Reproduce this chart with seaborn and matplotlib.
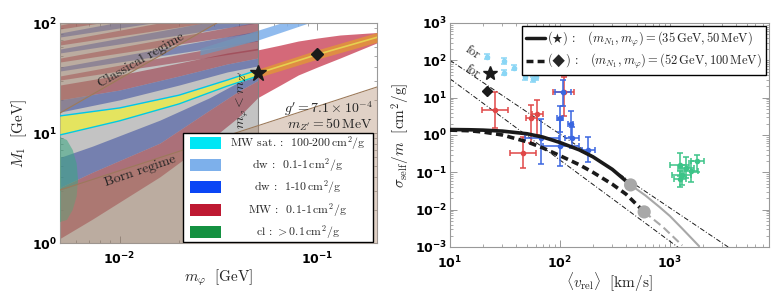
import numpy as np
import seaborn as sns
import matplotlib.pyplot as plt
from matplotlib.patches import Rectangle
from matplotlib.lines import Line2D

# ---------------- left panel: (m_phi [GeV], M_1 [GeV]) ----------------
m_zp = 0.05
born_x = [0.005, 0.2]
born_y = [3.03, 26.2]
class_x = [0.005, 0.031]
class_y = [15.2, 100]

# MW 0.1-1 (red) and dw 1-10 (blue), lower branch
low_x = [0.005, 0.0073, 0.016, 0.0286, 0.04, 0.05]
red_low_min = [1.1, 1.65, 4.0, 8.6, 14, 21]
red_low_max = [3.2, 4.4, 8.1, 16.2, 24, 30]
blue_low_max = [6.0, 7.6, 13.1, 21, 29, 34]

# upper branches (above the narrow band)
up_x = [0.005, 0.01, 0.02, 0.035, 0.05]
blue_up_min = [15.5, 20, 27.3, 35.9, 40.7]
blue_up_max = [20, 24.6, 33, 42.4, 48]
red_up_max = [27.3, 33.7, 43.3, 53.4, 59]

# red branch right of m_Z'
red_right_x = [0.05, 0.065, 0.08, 0.1, 0.13, 0.2]
red_right_min = [21, 27.3, 33.7, 39.8, 48, 66]
red_right_max = [57, 63, 68.6, 73, 77.8, 82]

# dw 0.1-1 (light blue) leaving through the top
lblue_x = [0.0255, 0.05, 0.09]
lblue_min = [51.2, 70, 100]
lblue_max = [59, 86, 120]

# narrow MW-satellite band (yellow with cyan edges) and its continuation
sat_x = [0.005, 0.01, 0.02, 0.035, 0.05]
sat_min = [9.6, 12.9, 18.4, 26.7, 33]
sat_max = [14.3, 16.9, 22.1, 30.3, 37.4]
orange_x = [0.05, 0.1, 0.2]
orange_min = [32, 47, 67]
orange_max = [38, 57, 82]

# resonance fan in the upper left corner
fan_x = [0.005, 0.05]
fan_min = [[88.2, 165], [74.6, 140], [63.1, 118], [53.4, 100], [44.2, 82.5], [36.6, 68.6], [30.3, 57]]
fan_max = [[95.9, 210], [81.1, 175], [68.6, 146], [58.0, 123], [48.0, 102], [39.8, 84.5], [33.0, 70]]
fan_kind = ['red', 'blue', 'red', 'blue', 'red', 'blue', 'red']

# clusters (green)
cl_x = [0.005, 0.00542, 0.0058, 0.00607, 0.00617, 0.00607, 0.0058, 0.00542, 0.005]
cl_y = [9.2, 8.64, 7.0, 5.28, 3.74, 2.65, 2.0, 1.62, 1.55]

star_pt = (0.05, 35)
diam_pt = (0.1, 52)

leg_labels = ['MW sat. :  100-200$\\,\\mathrm{cm}^2/\\mathrm{g}$',
              'dw :  0.1-1$\\,\\mathrm{cm}^2/\\mathrm{g}$',
              'dw :  1-10$\\,\\mathrm{cm}^2/\\mathrm{g}$',
              'MW :  0.1-1$\\,\\mathrm{cm}^2/\\mathrm{g}$',
              'cl : $>0.1\\,\\mathrm{cm}^2/\\mathrm{g}$']
leg_colors = ['#00e6f5', '#7db0eb', '#0a46f5', '#be1932', '#149141']

# ---------------- right panel: (<v_rel> [km/s], sigma/m [cm^2/g]) ----------------
v_star = [10, 15, 20, 30, 50, 70, 100, 150, 200, 300, 440]
s_star = [1.4, 1.38, 1.35, 1.27, 1.08, 0.88, 0.63, 0.40, 0.26, 0.12, 0.046]
v_star_ext = [440, 600, 800, 1000, 1300, 1600, 1850]
s_star_ext = [0.046, 0.024, 0.012, 0.0068, 0.0031, 0.00164, 0.00105]
v_diam = [10, 15, 20, 30, 50, 70, 100, 150, 200, 300, 400, 585]
s_diam = [1.35, 1.3, 1.2, 1.0, 0.66, 0.45, 0.28, 0.16, 0.1, 0.048, 0.026, 0.0087]
v_diam_ext = [585, 860, 1300]
s_diam_ext = [0.0087, 0.0035, 0.0011]
v_dot = [440, 585]
s_dot = [0.046, 0.0087]

v_for = [10, 3400]
s_for_star = [100, 0.001]
s_for_diam = [32, 0.00010]

sat_v = [21.5, 31, 31, 38, 48, 57, 57, 61]
sat_s = [125, 95, 47, 64, 35, 50, 31, 36]

mw_v = [25.5, 46, 55, 62, 108]
mw_vlo = [19.5, 35, 49, 56, 86]
mw_vhi = [33.5, 60, 62, 70, 135]
mw_s = [4.8, 0.33, 2.8, 3.6, 14]
mw_slo = [1.5, 0.13, 0.6, 1.0, 3.3]
mw_shi = [14, 0.9, 6.5, 8.5, 35]

dw_v = [67, 100, 100, 107, 125, 128, 180]
dw_vlo = [48, 70, 95, 90, 118, 112, 160]
dw_vhi = [98, 150, 106, 125, 133, 148, 210]
dw_s = [0.82, 0.52, 2.8, 14, 2.0, 0.85, 0.4]
dw_slo = [0.17, 0.15, 1.2, 6, 0.9, 0.45, 0.19]
dw_shi = [2.6, 2.5, 6.0, 30, 4.5, 1.6, 0.9]

cl_v = [1230, 1280, 1250, 1420, 1570, 1780]
cl_vlo = [1000, 1050, 1100, 1200, 1350, 1550]
cl_vhi = [1500, 1550, 1400, 1650, 1800, 2050]
cl_s = [0.16, 0.085, 0.065, 0.13, 0.11, 0.2]
cl_slo = [0.08, 0.045, 0.04, 0.07, 0.055, 0.1]
cl_shi = [0.32, 0.16, 0.11, 0.25, 0.2, 0.3]

star_r = (23, 45)
diam_r = (21.6, 15.3)

sns.set_theme(style='ticks')
plt.rcParams['mathtext.fontset'] = 'cm'
plt.rcParams['font.family'] = ['cmr10', 'DejaVu Sans']
plt.rcParams['axes.formatter.use_mathtext'] = True

RED = '#be1932'
BLUE = '#2846c8'
TAN = (0.69, 0.53, 0.41)

fig = plt.figure(figsize=(7.72, 2.97), dpi=100)
ax1 = fig.add_axes([0.0777, 0.1818, 0.4106, 0.7407])
ax2 = fig.add_axes([0.5829, 0.1684, 0.4132, 0.7542])

# ---------------- left panel ----------------
ax1.set_xscale('log')
ax1.set_yscale('log')
ax1.set_xlim(0.005, 0.2)
ax1.set_ylim(1, 100)

for lo, hi, kind in zip(fan_min, fan_max, fan_kind):
    ax1.fill_between(fan_x, lo, hi, color=RED if kind == 'red' else BLUE,
                     alpha=0.55, lw=0, zorder=1)
ax1.fill_between(up_x, blue_up_max, red_up_max, color=RED, alpha=0.6, lw=0, zorder=1)
ax1.fill_between(up_x, blue_up_min, blue_up_max, color=BLUE, alpha=0.6, lw=0, zorder=1)
ax1.fill_between(low_x, red_low_max, blue_low_max, color=BLUE, alpha=0.6, lw=0, zorder=1)
ax1.fill_between(low_x, red_low_min, red_low_max, color=RED, alpha=0.6, lw=0, zorder=1)
ax1.fill_between(lblue_x, lblue_min, lblue_max, color='#7db0eb', alpha=0.85, lw=0, zorder=1)
ax1.fill_between(red_right_x, red_right_min, red_right_max, color=RED, alpha=0.65, lw=0, zorder=1)

# m_phi < m_Z' shading
ax1.axvspan(0.005, m_zp, color=(0.41, 0.41, 0.41), alpha=0.4, lw=0, zorder=2)
ax1.axvline(m_zp, color='#808080', lw=0.8, zorder=2)

# clusters and the narrow satellite band on top of the shading
ax1.fill(cl_x, cl_y, color='#3aa882', alpha=0.55, lw=0, zorder=3)
ax1.fill_between(sat_x, sat_min, sat_max, color='#e6e65a', alpha=0.95, lw=0, zorder=3)
ax1.plot(sat_x, sat_min, color='#00c8e6', lw=1.0, zorder=3)
ax1.plot(sat_x, sat_max, color='#00c8e6', lw=1.0, zorder=3)
ax1.fill_between(orange_x, orange_min, orange_max, color='#e09040', alpha=0.95, lw=0, zorder=3)
ax1.plot(orange_x, [np.sqrt(a * b) for a, b in zip(orange_min, orange_max)],
         color='#e6d050', lw=1.2, zorder=3)

# Born / classical regimes
ax1.fill_between(born_x, [1, 1], born_y, color=TAN, alpha=0.38, lw=0, zorder=4)
ax1.fill_between(class_x, class_y, [100, 100], color=TAN, alpha=0.38, lw=0, zorder=4)
ax1.plot(born_x, born_y, color='#9c7a5a', lw=0.8, zorder=4)
ax1.plot(class_x, class_y, color='#9c7a5a', lw=0.8, zorder=4)

ax1.text(0.0128, 46, 'Classical regime', rotation=30, ha='center', va='center',
         fontsize=10, zorder=5)
ax1.text(0.0128, 4.5, 'Born regime', rotation=19, ha='center', va='center',
         fontsize=10, zorder=5)
ax1.text(0.042, 20, r"$m_\varphi < m_{Z'}$", rotation=90, ha='center', va='center',
         fontsize=10, zorder=5)
ax1.text(0.19, 16.8, r"$g' = 7.1\times 10^{-4}$", ha='right', va='center', fontsize=10, zorder=5)
ax1.text(0.19, 11.8, r"$m_{Z'} = 50\,\mathrm{MeV}$", ha='right', va='center', fontsize=10, zorder=5)

ax1.plot(*star_pt, marker='*', color='k', ms=12, zorder=6)
ax1.plot(*diam_pt, marker='D', color='k', ms=6.5, zorder=6)

# legend
ax1.add_patch(Rectangle((0.388, 0.004), 0.598, 0.496, transform=ax1.transAxes,
                        facecolor='white', edgecolor='black', lw=1.0, zorder=7))
for i, (c, lab) in enumerate(zip(leg_colors, leg_labels)):
    yc = 0.455 - i * 0.101
    ax1.add_patch(Rectangle((0.41, yc - 0.027), 0.098, 0.054, transform=ax1.transAxes,
                            facecolor=c, edgecolor='none', zorder=8))
    ax1.text(0.75, yc, lab, transform=ax1.transAxes, ha='center', va='center',
             fontsize=8.5, zorder=8)

ax1.set_xticks([0.01, 0.1])
ax1.set_xticklabels([r'$\mathbf{10^{-2}}$', r'$\mathbf{10^{-1}}$'])
ax1.set_yticks([1, 10, 100])
ax1.set_yticklabels([r'$\mathbf{10^{0}}$', r'$\mathbf{10^{1}}$', r'$\mathbf{10^{2}}$'])
ax1.set_xlabel(r'$m_\varphi\ \ [\mathrm{GeV}]$', fontsize=11)
ax1.set_ylabel(r'$M_1\ \ [\mathrm{GeV}]$', fontsize=11)

# ---------------- right panel ----------------
ax2.set_xscale('log')
ax2.set_yscale('log')
ax2.set_xlim(10, 8000)
ax2.set_ylim(1e-3, 1e3)

ax2.plot(v_for, s_for_star, color='k', lw=0.7, ls=(0, (5, 2, 1, 2)), zorder=2)
ax2.plot(v_for, s_for_diam, color='k', lw=0.7, ls=(0, (5, 2, 1, 2)), zorder=2)
ax2.text(16.2, 92, 'for', rotation=-34, ha='center', va='bottom', fontsize=9)
ax2.text(15.9, 28, 'for', rotation=-34, ha='center', va='bottom', fontsize=9)
ax2.plot(*star_r, marker='*', color='k', ms=10, zorder=6)
ax2.plot(*diam_r, marker='D', color='k', ms=5.5, zorder=6)

err = dict(fmt='o', ms=3, capsize=2, elinewidth=1.1, capthick=1.1, zorder=3)
ax2.errorbar(sat_v, sat_s, yerr=[[s * 0.15 for s in sat_s], [s * 0.18 for s in sat_s]],
             color='#8ad6f5', **err)
ax2.errorbar(mw_v, mw_s,
             xerr=[np.subtract(mw_v, mw_vlo), np.subtract(mw_vhi, mw_v)],
             yerr=[np.subtract(mw_s, mw_slo), np.subtract(mw_shi, mw_s)],
             color='#e04848', **err)
ax2.errorbar(dw_v, dw_s,
             xerr=[np.subtract(dw_v, dw_vlo), np.subtract(dw_vhi, dw_v)],
             yerr=[np.subtract(dw_s, dw_slo), np.subtract(dw_shi, dw_s)],
             color='#3a66e0', **err)
ax2.errorbar(cl_v, cl_s,
             xerr=[np.subtract(cl_v, cl_vlo), np.subtract(cl_vhi, cl_v)],
             yerr=[np.subtract(cl_s, cl_slo), np.subtract(cl_shi, cl_s)],
             color='#3cc488', **err)

sns.lineplot(x=v_star_ext, y=s_star_ext, ax=ax2, color='#a8a8a8', lw=1.5, zorder=4)
sns.lineplot(x=v_diam_ext, y=s_diam_ext, ax=ax2, color='#a8a8a8', lw=1.5,
             linestyle=(0, (4, 2)), zorder=4)
sns.lineplot(x=v_star, y=s_star, ax=ax2, color='k', lw=2.6, zorder=5)
sns.lineplot(x=v_diam, y=s_diam, ax=ax2, color='k', lw=2.6,
             linestyle=(0, (2, 1.2)), zorder=5)
sns.scatterplot(x=v_dot, y=s_dot, ax=ax2, color='#a8a8a8', s=90, edgecolor='none', zorder=6)

handles = [Line2D([], [], color='k', lw=2.5),
           Line2D([], [], color='k', lw=2.5, ls=(0, (2, 1.2)))]
labels = ['$(\u2605)$ :   $(m_{N_1}, m_\\varphi) = (35\\,\\mathrm{GeV}, 50\\,\\mathrm{MeV})$',
          '$(\u25c6)$ :   $(m_{N_1}, m_\\varphi) = (52\\,\\mathrm{GeV}, 100\\,\\mathrm{MeV})$']
leg = ax2.legend(handles, labels, loc='upper right', fontsize=9, handlelength=1.5,
                 handletextpad=0.2, frameon=True, fancybox=False, edgecolor='black',
                 framealpha=1, borderaxespad=0.25, borderpad=0.3, labelspacing=0.25)
leg.get_frame().set_linewidth(1.0)

ax2.set_xticks([10, 100, 1000])
ax2.set_xticklabels([r'$\mathbf{10^{1}}$', r'$\mathbf{10^{2}}$', r'$\mathbf{10^{3}}$'])
ax2.set_yticks([1e-3, 1e-2, 1e-1, 1, 10, 100, 1000])
ax2.set_yticklabels([r'$\mathbf{10^{%d}}$' % k for k in range(-3, 4)])
ax2.set_xlabel(r'$\langle v_{\rm rel}\rangle\ \ [\mathrm{km/s}]$', fontsize=11)
ax2.set_ylabel(r'$\sigma_{\rm self}/m\ \ [\mathrm{cm}^2/\mathrm{g}]$', fontsize=11)

for ax in (ax1, ax2):
    ax.tick_params(which='both', direction='in', top=True, right=True, colors='#888888',
                   labelcolor='black', labelsize=9, pad=2)
    ax.tick_params(axis='x', which='both', pad=5.5)
    ax.tick_params(which='major', length=5, width=0.6)
    ax.tick_params(which='minor', length=2.5, width=0.5)
    ax.yaxis.set_minor_formatter(plt.NullFormatter())
    ax.xaxis.set_minor_formatter(plt.NullFormatter())
    for sp in ax.spines.values():
        sp.set_color('#999999')
        sp.set_linewidth(0.8)
    for lab in ax.get_xticklabels() + ax.get_yticklabels():
        lab.set_math_fontfamily('dejavusans')
    ax.xaxis.labelpad = 0
    ax.yaxis.labelpad = 2

fig.savefig('out.png', dpi=100)
